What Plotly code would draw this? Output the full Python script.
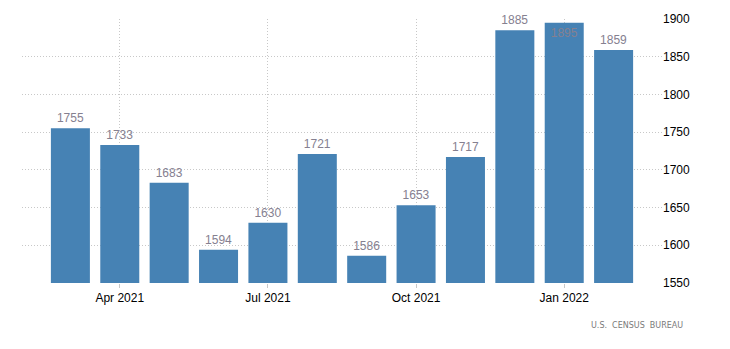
import plotly.graph_objects as go

months = ["2021-03", "2021-04", "2021-05", "2021-06", "2021-07", "2021-08",
          "2021-09", "2021-10", "2021-11", "2021-12", "2022-01", "2022-02"]
values = [1755, 1733, 1683, 1594, 1630, 1721, 1586, 1653, 1717, 1885, 1895, 1859]
tick_months = ["2021-04", "2021-07", "2021-10", "2022-01"]
tick_labels = ["Apr 2021", "Jul 2021", "Oct 2021", "Jan 2022"]
y_ticks = [1550, 1600, 1650, 1700, 1750, 1800, 1850, 1900]

positions = ["inside" if v > 1890 else "outside" for v in values]

FONT = "Liberation Sans, Arial, sans-serif"

fig = go.Figure(go.Bar(
    x=months, y=values,
    marker=dict(color="#4682B4", line=dict(width=0)),
    text=[str(v) for v in values],
    textposition=positions,
    insidetextanchor="end",
    textfont=dict(family=FONT, size=12, color="#858090"),
    cliponaxis=False,
    hoverinfo="x+y",
))

fig.update_layout(
    width=730, height=349,
    margin=dict(l=22, r=68, t=19, b=66),
    paper_bgcolor="white", plot_bgcolor="white",
    bargap=0.21,
    showlegend=False,
    font=dict(family=FONT, size=12, color="#000"),
    xaxis=dict(
        type="category",
        range=[-0.98, 11.98],
        tickmode="array", tickvals=tick_months, ticktext=tick_labels,
        showgrid=True, gridcolor="#c8c8c8", griddash="1px,2px", gridwidth=1,
        ticks="outside", ticklen=4, tickcolor="#c8c8c8",
        showline=False, zeroline=False,
        tickfont=dict(family=FONT, size=12, color="#000"),
    ),
    yaxis=dict(
        side="right",
        range=[1550, 1900],
        tickmode="array", tickvals=y_ticks,
        showgrid=True, gridcolor="#c8c8c8", griddash="1px,2px", gridwidth=1,
        zeroline=False, showline=False, ticks="",
        tickfont=dict(family=FONT, size=12, color="#000"),
    ),
    annotations=[dict(
        text="U.S.  CENSUS  BUREAU", xref="paper", yref="paper",
        x=1.0, y=-0.135, xanchor="right", yanchor="top", xshift=23,
        showarrow=False,
        font=dict(family="DejaVu Sans", size=8, color="#7a7a7a"),
    )],
)

fig.write_html("out.html")
